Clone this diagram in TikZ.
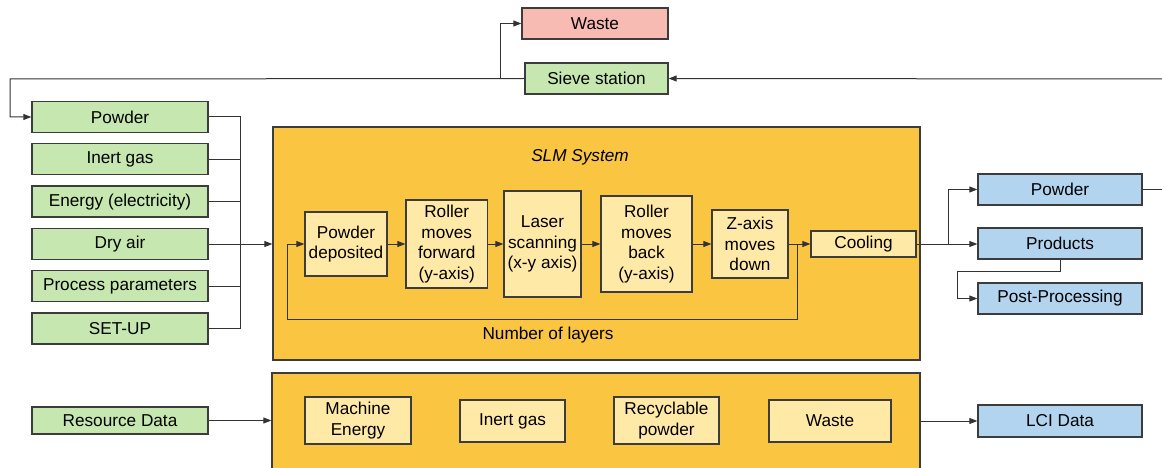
\documentclass[tikz,border=0pt]{standalone}
\usepackage{fontspec}
\setmainfont{Liberation Sans}
\usepackage{tikz}
\usetikzlibrary{arrows.meta}
\definecolor{ingreen}{RGB}{198,231,176}
\definecolor{outblue}{RGB}{178,212,238}
\definecolor{wastered}{RGB}{248,187,180}
\definecolor{slmorange}{RGB}{250,197,64}
\definecolor{stepyellow}{RGB}{255,233,166}
\definecolor{edge}{RGB}{60,60,60}

\begin{document}
\begin{tikzpicture}[x=1pt, y=-1pt,
        every node/.style={font=\fontsize{17.2pt}{20.6pt}\selectfont},
        box/.style={draw=edge, line width=1.3pt, rectangle, inner sep=0pt, align=center},
        inbox/.style={box, fill=ingreen, minimum width=176pt, minimum height=31pt},
        outbox/.style={box, fill=outblue, minimum width=164pt, minimum height=31pt},
        stepbox/.style={box, fill=stepyellow, minimum height=64pt},
        sysbox/.style={box, fill=slmorange},
        link/.style={line width=1pt, draw=black!80},
        arr/.style={link, -{Triangle[length=8pt,width=6pt]}}]
        \useasboundingbox (0, 0) rectangle (1162, 468);
        \draw (595, 23.5) node(waste)[box, fill=wastered, minimum width=146pt, minimum height=31pt]{Waste};
        \draw (596.5, 78.5) node(sieve)[inbox, minimum width=143pt]{Sieve station};
        \draw (596.5, 243.5) node(slm)[sysbox, minimum width=647pt, minimum height=233pt]{};
        \draw (596, 422.5) node(data)[sysbox, minimum width=648pt, minimum height=99pt]{};
        \draw (580, 157) node(title){\itshape SLM System};
        \draw (120, 117) node(powder)[inbox]{Powder};
        \draw (120, 159.3) node(inert)[inbox]{Inert gas};
        \draw (120, 201.6) node(energy)[inbox]{Energy (electricity)};
        \draw (120, 244) node(dryair)[inbox]{Dry air};
        \draw (120, 286.3) node(process)[inbox]{Process parameters};
        \draw (120, 328.6) node(setup)[inbox]{SET-UP};
        \draw (120, 420.5) node(resource)[inbox, minimum height=27pt]{Resource Data};
        \draw (346, 244) node(deposited)[stepbox, minimum width=82pt]{Powder\\deposited};
        \draw (446.75, 244) node(forward)[stepbox, minimum width=81.5pt, minimum height=88pt]{Roller\\moves\\forward\\(y-axis)};
        \draw (542.5, 244) node(laser)[stepbox, minimum width=77pt, minimum height=106pt]{Laser\\scanning\\(x-y axis)};
        \draw (646.5, 244) node(back)[stepbox, minimum width=91pt, minimum height=96pt]{Roller\\moves\\back\\(y-axis)};
        \draw (750, 244) node(zdown)[stepbox, minimum width=76pt, minimum height=68pt]{Z-axis\\moves\\down};
        \draw (863.5, 244) node(cooling)[stepbox, minimum width=105pt, minimum height=26pt]{Cooling};
        \draw (548, 335) node(layers){Number of layers};
        \draw (358, 420.5) node(machine)[stepbox, minimum width=106pt, minimum height=47pt]{Machine\\Energy};
        \draw (512.5, 421) node(gas)[stepbox, minimum width=105pt, minimum height=42pt]{Inert gas};
        \draw (666.5, 420.5) node(recycle)[stepbox, minimum width=105pt, minimum height=47pt]{Recyclable\\powder};
        \draw (830, 421) node(scrap)[stepbox, minimum width=122pt, minimum height=42pt]{Waste};
        \draw (1060, 189.5) node(rpowder)[outbox]{Powder};
        \draw (1060, 243.5) node(products)[outbox]{Products};
        \draw (1060, 298.5) node(post)[outbox]{Post-Processing};
        \draw (1060, 421) node(lci)[outbox, minimum height=32pt]{LCI Data};
        \coordinate (sievein) at (1162, 79);
        \coordinate (powderout) at (1162, 189.5);
        \coordinate (turnleft) at (10, 79);
        \coordinate (split) at (500, 79);
        \coordinate (bus) at (240.5, 244);
        \coordinate (loopright) at (797, 244);
        \coordinate (loopleft) at (287, 319);
        \coordinate (outsplit) at (948, 244);
        \coordinate (postturn) at (957, 271);
        \draw[arr] (sievein) -- (sieve.east);
        \draw[arr] (sieve.west) -- (turnleft) |- (powder.west);
        \draw[arr] (split) |- (waste.west);
        \draw[link] (powder.east) -| (bus);
        \draw[link] (setup.east) -| (bus);
        \draw[link] (inert.east) -- (inert.east -| bus);
        \draw[link] (energy.east) -- (energy.east -| bus);
        \draw[link] (process.east) -- (process.east -| bus);
        \draw[arr] (dryair.east) -- (dryair.east -| slm.west);
        \draw[arr] (deposited) -- (forward);
        \draw[arr] (forward) -- (laser);
        \draw[arr] (laser) -- (back);
        \draw[arr] (back) -- (zdown);
        \draw[arr] (zdown) -- (cooling);
        \draw[arr] (loopright) |- (loopleft) |- (deposited.west);
        \draw[arr] (cooling.east) -- (cooling.east -| products.west);
        \draw[arr] (outsplit) |- (rpowder.west);
        \draw[arr] (products.south) |- (postturn) |- (post.west);
        \draw[link] (rpowder.east) -- (powderout);
        \draw[arr] (resource.east) -- (resource.east -| data.west);
        \draw[arr] (lci.west -| data.east) -- (lci.west);
\end{tikzpicture}
\end{document}
